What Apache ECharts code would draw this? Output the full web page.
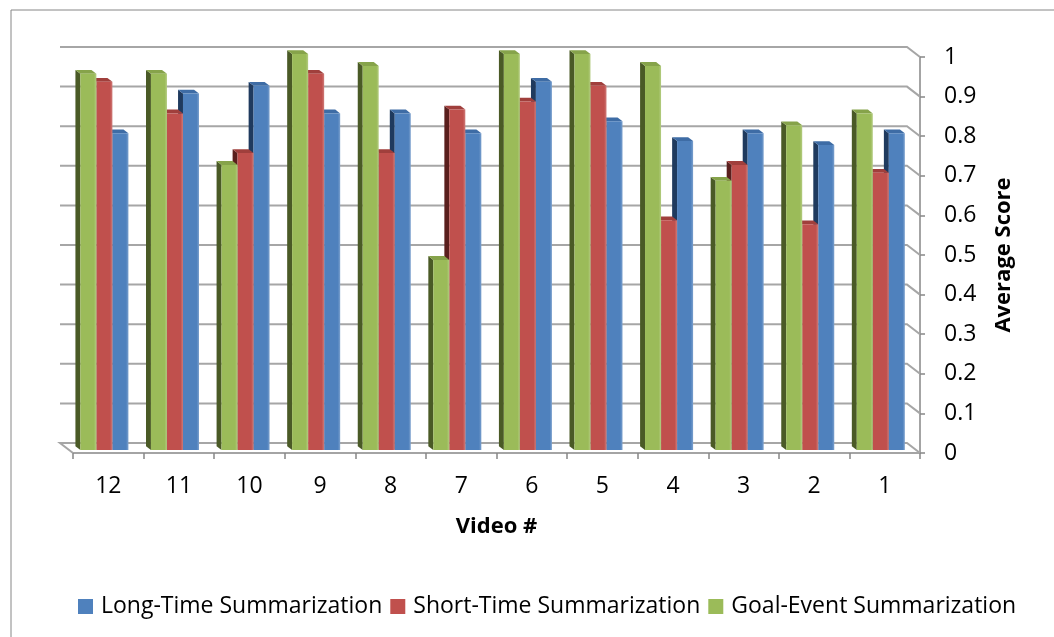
<!DOCTYPE html>
<html>
<head>
<meta charset="utf-8">
<script src="https://cdn.jsdelivr.net/npm/echarts@6/dist/echarts.min.js"></script>
<style>
  html, body { margin: 0; padding: 0; background: #fff; }
  #chart { width: 1054px; height: 637px; }
</style>
</head>
<body>
<div id="chart"></div>
<script>
// data
const videos = ['12', '11', '10', '9', '8', '7', '6', '5', '4', '3', '2', '1'];
const goalEvent = [0.95, 0.95, 0.72, 1.00, 0.97, 0.48, 1.00, 1.00, 0.97, 0.68, 0.82, 0.85];
const shortTime = [0.93, 0.85, 0.75, 0.95, 0.75, 0.86, 0.88, 0.92, 0.58, 0.72, 0.57, 0.70];
const longTime  = [0.80, 0.90, 0.92, 0.85, 0.85, 0.80, 0.93, 0.83, 0.78, 0.80, 0.77, 0.80];
const yTicks = [0, 0.1, 0.2, 0.3, 0.4, 0.5, 0.6, 0.7, 0.8, 0.9, 1];

const FONT = 'Open Sans';
// full depth of the fake 3d box (back wall offset), px
const DEPTH = [-13, -10];
const BAR_FRONT = 0.3;   // bars start this far back
const BAR_DEPTH = 0.38;  // and are this deep

// slot: position inside the group (0 = left), colours: front / top / side
function barSeries(name, values, slot, front, top, side) {
    return {
        name: name,
        type: 'custom',
        itemStyle: { color: front },
        data: values.map((v, i) => [i, v]),
        renderItem: function (params, api) {
            const c = api.value(0);
            const v = api.value(1);
            const pTop = api.coord([c, v]);
            const pBase = api.coord([c, 0]);
            const band = api.size([1, 0])[0];
            const w = band * 0.227;
            const x0 = pTop[0] - 1.5 * w + slot * w + DEPTH[0] * BAR_FRONT;
            const yT = pTop[1] + DEPTH[1] * BAR_FRONT;
            const yB = pBase[1] + DEPTH[1] * BAR_FRONT;
            const bx = DEPTH[0] * BAR_DEPTH;
            const by = DEPTH[1] * BAR_DEPTH;
            return {
                type: 'group',
                children: [
                    {
                        type: 'polygon',
                        shape: { points: [[x0, yT], [x0, yB], [x0 + bx, yB + by], [x0 + bx, yT + by]] },
                        style: { fill: side }
                    },
                    {
                        type: 'polygon',
                        shape: { points: [[x0, yT], [x0 + w, yT], [x0 + w + bx, yT + by], [x0 + bx, yT + by]] },
                        style: { fill: top }
                    },
                    {
                        type: 'rect',
                        shape: { x: x0, y: yT, width: w, height: yB - yT },
                        style: {
                            fill: {
                                type: 'linear', x: 0, y: 0, x2: 1, y2: 0,
                                colorStops: [
                                    { offset: 0, color: front },
                                    { offset: 0.85, color: front },
                                    { offset: 1, color: echarts.color.lift(front, 0.25) }
                                ]
                            }
                        }
                    }
                ]
            };
        }
    };
}

const chart = echarts.init(document.getElementById('chart'));

chart.setOption({
    animation: false,
    backgroundColor: '#fff',
    graphic: [{
        type: 'rect',
        shape: { x: 11, y: 10, width: 1060, height: 640 },
        style: { fill: 'none', stroke: '#868686', lineWidth: 1 },
        z: -10
    }],
    grid: { left: 73, right: 134, top: 57, bottom: 184 },
    legend: {
        left: 73,
        top: 590,
        itemWidth: 15,
        itemHeight: 15,
        itemGap: 8,
        icon: 'rect',
        textStyle: { fontFamily: FONT, fontSize: 23, color: '#000', padding: [0, 0, 0, 3] },
        data: ['Long-Time Summarization', 'Short-Time Summarization', 'Goal-Event Summarization']
    },
    xAxis: {
        type: 'category',
        data: videos,
        name: 'Video #',
        nameLocation: 'middle',
        nameGap: 63,
        nameTextStyle: { fontFamily: FONT, fontSize: 22, fontWeight: 'bold', color: '#000' },
        axisLine: { lineStyle: { color: '#868686', width: 1.5 } },
        axisTick: { show: true, length: 6, lineStyle: { color: '#868686', width: 1.5 } },
        axisLabel: { fontFamily: FONT, fontSize: 23, color: '#000', margin: 22 },
        splitLine: { show: false }
    },
    yAxis: {
        type: 'value',
        position: 'right',
        min: 0,
        max: 1,
        interval: 0.1,
        name: 'Average Score',
        nameLocation: 'middle',
        nameRotate: 90,
        nameGap: 73,
        nameTextStyle: { fontFamily: FONT, fontSize: 22, fontWeight: 'bold', color: '#000' },
        axisLine: { show: true, lineStyle: { color: '#868686', width: 1.5 } },
        axisTick: { show: true, length: 5, lineStyle: { color: '#868686', width: 1.5 } },
        axisLabel: { fontFamily: FONT, fontSize: 23, color: '#000', margin: 24 },
        splitLine: { show: false }
    },
    series: [
        {
            // back wall gridlines and floor of the 3d box
            type: 'custom',
            silent: true,
            z: 1,
            data: yTicks.map(v => [0, v]),
            renderItem: function (params, api) {
                const v = api.value(1);
                const y = api.coord([0, v])[1];
                const cs = params.coordSys;
                const xl = cs.x, xr = cs.x + cs.width;
                const pts = [[xl + DEPTH[0], y + DEPTH[1]], [xr + DEPTH[0], y + DEPTH[1]], [xr, y]];
                if (v === 0) pts.unshift([xl, y]);
                return {
                    type: 'polyline',
                    shape: { points: pts },
                    style: { stroke: '#a6a6a6', lineWidth: 2, fill: null }
                };
            }
        },
        barSeries('Long-Time Summarization', longTime, 2, '#4f81bd', '#3e6ca5', '#1f3a5e'),
        barSeries('Short-Time Summarization', shortTime, 1, '#c0504d', '#a03f3c', '#5a1f1d'),
        barSeries('Goal-Event Summarization', goalEvent, 0, '#9bbb59', '#86a34a', '#4a5a26')
    ]
});
</script>
</body>
</html>
